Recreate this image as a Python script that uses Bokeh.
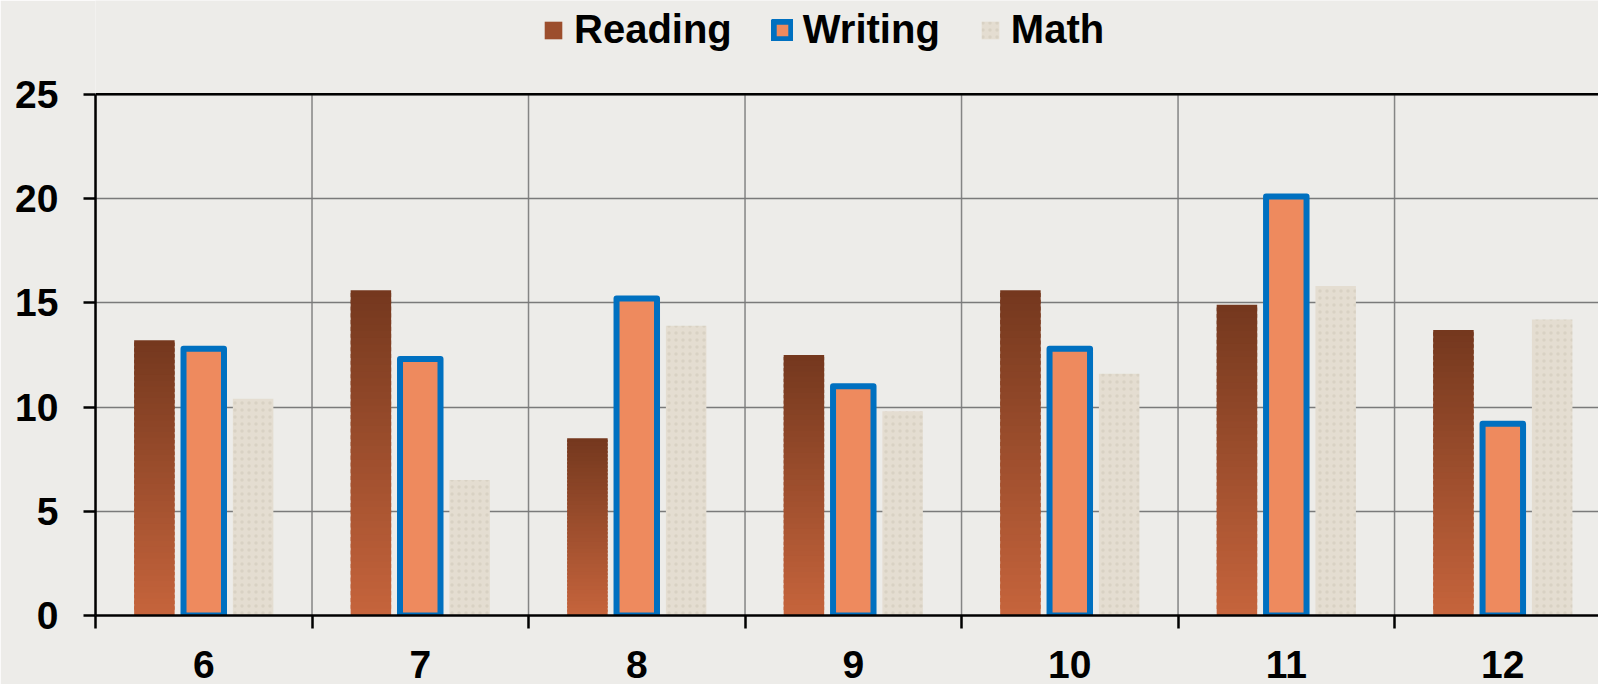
from bokeh.plotting import figure
from bokeh.models import ColumnDataSource, FixedTicker, Legend, LegendItem, Span, Range1d
from bokeh.embed import file_html
from bokeh.resources import INLINE

# ---- data ----
grades = [6, 7, 8, 9, 10, 11, 12]
reading = [13.2, 15.6, 8.5, 12.5, 15.6, 14.9, 13.7]
writing = [12.8, 12.3, 15.2, 11.0, 12.8, 20.1, 9.2]
math = [10.4, 6.5, 13.9, 9.8, 11.6, 15.8, 14.2]
y_ticks = [0, 5, 10, 15, 20, 25]
series_names = ["Reading", "Writing", "Math"]

# ---- style ----
OFFSET = 0.228
BAR_W = 0.187
N_SLICES = 48
BOTTOM_RGB = (198, 100, 60)
TOP_RGB = (116, 56, 30)
FONT = "Liberation Sans"
BG = "#EDECE9"
TOP_PAD = 4.5          # headroom (in value units) above the axis for the legend

y_lo, y_hi = y_ticks[0], y_ticks[-1]
boundaries = [g - 0.5 for g in grades] + [grades[-1] + 0.5]

p = figure(width=1598, height=684, output_backend="svg", toolbar_location=None,
           x_range=Range1d(grades[0] - 0.5, 12.442), y_range=Range1d(y_lo, y_hi + TOP_PAD),
           min_border_left=95, min_border_top=0, min_border_bottom=69, min_border_right=0)
p.background_fill_color = BG
p.border_fill_color = BG
p.outline_line_color = None

# vertical category grid lines, limited to the value range
p.segment(x0=boundaries, y0=[y_lo] * len(boundaries), x1=boundaries, y1=[y_hi] * len(boundaries),
          line_color="#858585", line_width=1.5, level="underlay")

# Reading: vertical gradient built from slices of each bar
rx, rb, rt, rc = [], [], [], []
for g, v in zip(grades, reading):
    for k in range(N_SLICES):
        t = (k + 0.5) / N_SLICES
        col = "#%02x%02x%02x" % tuple(int(round(b + (a - b) * t)) for a, b in zip(TOP_RGB, BOTTOM_RGB))
        rx.append(g - OFFSET)
        rb.append(v * k / N_SLICES)
        rt.append(v * min(1.0, (k + 1.6) / N_SLICES))
        rc.append(col)
src_r = ColumnDataSource(dict(x=rx, bottom=rb, top=rt, color=rc))
r_read = p.vbar(x="x", bottom="bottom", top="top", width=BAR_W, fill_color="color",
                line_color=None, source=src_r)

src_w = ColumnDataSource(dict(x=grades, top=writing))
r_write = p.vbar(x="x", top="top", width=BAR_W, fill_color="#EE8A5E",
                 line_color="#0070C0", line_width=6, line_join="round", source=src_w)

src_m = ColumnDataSource(dict(x=[g + OFFSET for g in grades], top=math))
r_math = p.vbar(x="x", top="top", width=BAR_W, fill_color="#E4DDD1", line_color=None,
                hatch_pattern="dot", hatch_color="#B5AB9B", hatch_alpha=0.25,
                hatch_scale=7, hatch_weight=1.5, source=src_m)

# top border line at the last tick
p.add_layout(Span(location=y_hi, dimension="width", line_color="black", line_width=2.5))

# axes
xa = p.xaxis[0]
xa.ticker = FixedTicker(ticks=grades, minor_ticks=boundaries)
xa.major_tick_out = 0
xa.major_tick_in = 0
xa.minor_tick_out = 13
xa.minor_tick_in = 0
xa.minor_tick_line_color = "black"
xa.minor_tick_line_width = 2.5
xa.axis_line_color = "black"
xa.axis_line_width = 2.5
xa.major_label_standoff = 22
xa.major_label_text_font = FONT
xa.major_label_text_font_style = "bold"
xa.major_label_text_font_size = "39px"
xa.major_label_text_color = "black"

ya = p.yaxis[0]
ya.ticker = FixedTicker(ticks=y_ticks)
ya.bounds = (y_lo, y_hi)
ya.major_tick_out = 12
ya.major_tick_in = 0
ya.minor_tick_out = 0
ya.minor_tick_in = 0
ya.major_tick_line_color = "black"
ya.major_tick_line_width = 2.5
ya.axis_line_color = "black"
ya.axis_line_width = 2.5
ya.major_label_standoff = 25
ya.major_label_text_font = FONT
ya.major_label_text_font_style = "bold"
ya.major_label_text_font_size = "39px"
ya.major_label_text_color = "black"

p.xgrid.grid_line_color = None
p.xgrid.minor_grid_line_color = None
p.ygrid.grid_line_color = "#7A7A7A"
p.ygrid.grid_line_width = 1.5

legend = Legend(items=[
    LegendItem(label=series_names[0], renderers=[r_read], index=N_SLICES // 2),
    LegendItem(label=series_names[1], renderers=[r_write]),
    LegendItem(label=series_names[2], renderers=[r_math]),
], orientation="horizontal", location=(447, 563))
legend.label_text_font = FONT
legend.label_text_font_style = "bold"
legend.label_text_font_size = "40px"
legend.label_text_color = "black"
legend.glyph_width = 22
legend.glyph_height = 22
legend.label_standoff = 10
legend.spacing = 39
legend.padding = 0
legend.margin = 0
legend.border_line_color = None
legend.background_fill_alpha = 0
p.add_layout(legend, "center")

open("out.html", "w").write(file_html(p, INLINE))
